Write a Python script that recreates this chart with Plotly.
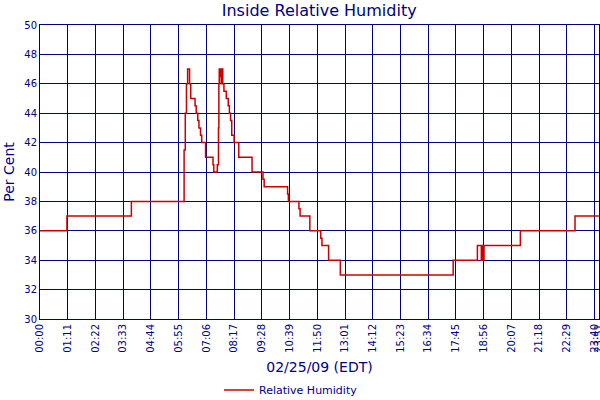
import plotly.graph_objects as go

# Time stamps (HH:MM) where the reading changes, and the reading from that time on
times = ["00:00", "01:09", "03:54", "06:09", "06:12", "06:15", "06:18", "06:23", "06:26",
         "06:37", "06:40", "06:44", "06:47", "06:51", "06:54", "07:04", "07:23", "07:25",
         "07:34", "07:37", "07:38", "07:39", "07:41", "07:42", "07:44", "07:46", "07:48",
         "07:51", "07:57", "08:02", "08:05", "08:08", "08:11", "08:17", "08:29", "09:03",
         "09:31", "09:34", "10:34", "10:36", "11:03", "11:06", "11:31", "11:59", "12:02",
         "12:19", "12:49", "17:38", "18:40", "18:50", "18:53", "18:54", "18:57", "20:30",
         "22:50", "23:51"]
humidity = [36, 37, 38, 41.5, 44, 46, 47, 46, 45,
            44.5, 44, 43.5, 43, 42.5, 42, 41, 40.5, 40,
            40.5, 43, 46, 47, 46.5, 47, 46, 47, 46,
            45.5, 45, 44.5, 44, 43.5, 42.5, 42, 41, 40,
            39.5, 39, 38.5, 38, 37.5, 37, 36, 35.5, 35,
            34, 33, 34, 35, 34, 35, 34, 35, 36,
            37, 37]

tick_labels = ["00:00", "01:11", "02:22", "03:33", "04:44", "05:55", "07:06", "08:17",
               "09:28", "10:39", "11:50", "13:01", "14:12", "15:23", "16:34", "17:45",
               "18:56", "20:07", "21:18", "22:29", "23:40", "23:51"]
y_ticks = [30, 32, 34, 36, 38, 40, 42, 44, 46, 48, 50]


def to_min(t):
    h, m = t.split(":")
    return int(h) * 60 + int(m)


x_vals = [to_min(t) for t in times]
x_ticks = [to_min(t) for t in tick_labels]

NAVY = "#000080"
FONT = "DejaVu Sans"

fig = go.Figure()
fig.add_trace(go.Scatter(
    x=x_vals, y=humidity, mode="lines", line_shape="hv",
    line=dict(color="#cc0000", width=1.5),
    name="Relative Humidity",
))

fig.update_layout(
    width=600, height=400,
    margin=dict(l=40, r=1, t=25, b=81, autoexpand=False),
    paper_bgcolor="white", plot_bgcolor="white",
    font=dict(family=FONT, color=NAVY, size=10),
    title=dict(text="Inside Relative Humidity", x=0.532, xanchor="center",
               y=0.975, yanchor="middle",
               font=dict(family=FONT, size=16, color=NAVY)),
    showlegend=True,
    legend=dict(orientation="h", xref="container", yref="container",
                x=0.485, xanchor="center", y=0.025, yanchor="middle",
                font=dict(family=FONT, size=11, color=NAVY),
                bgcolor="rgba(0,0,0,0)"),
    xaxis=dict(
        range=[x_ticks[0], x_ticks[-1] + 0.4], automargin=False,
        tickmode="array", tickvals=x_ticks, ticktext=tick_labels,
        ticklabeloverflow="allow",
        tickangle=-90, tickfont=dict(family=FONT, size=10, color=NAVY),
        showgrid=True, gridcolor=NAVY, gridwidth=1,
        showline=True, linecolor=NAVY, linewidth=1, mirror=True,
        zeroline=False, ticks="", ticklen=0,
        title=dict(text="02/25/09 (EDT)", font=dict(family=FONT, size=14, color=NAVY),
                   standoff=10),
    ),
    yaxis=dict(
        range=[30, 50], tickmode="array", tickvals=y_ticks, automargin=False,
        tickfont=dict(family=FONT, size=10, color=NAVY),
        showgrid=True, gridcolor=NAVY, gridwidth=1,
        showline=True, linecolor=NAVY, linewidth=1, mirror=True,
        zeroline=False, ticks="", ticklen=0,
        title=dict(text="Per Cent", font=dict(family=FONT, size=14, color=NAVY),
                   standoff=6),
    ),
)

fig.write_html("out.html", config={"displayModeBar": False},
               post_script="document.body.style.margin='0';document.body.style.padding='0';")
